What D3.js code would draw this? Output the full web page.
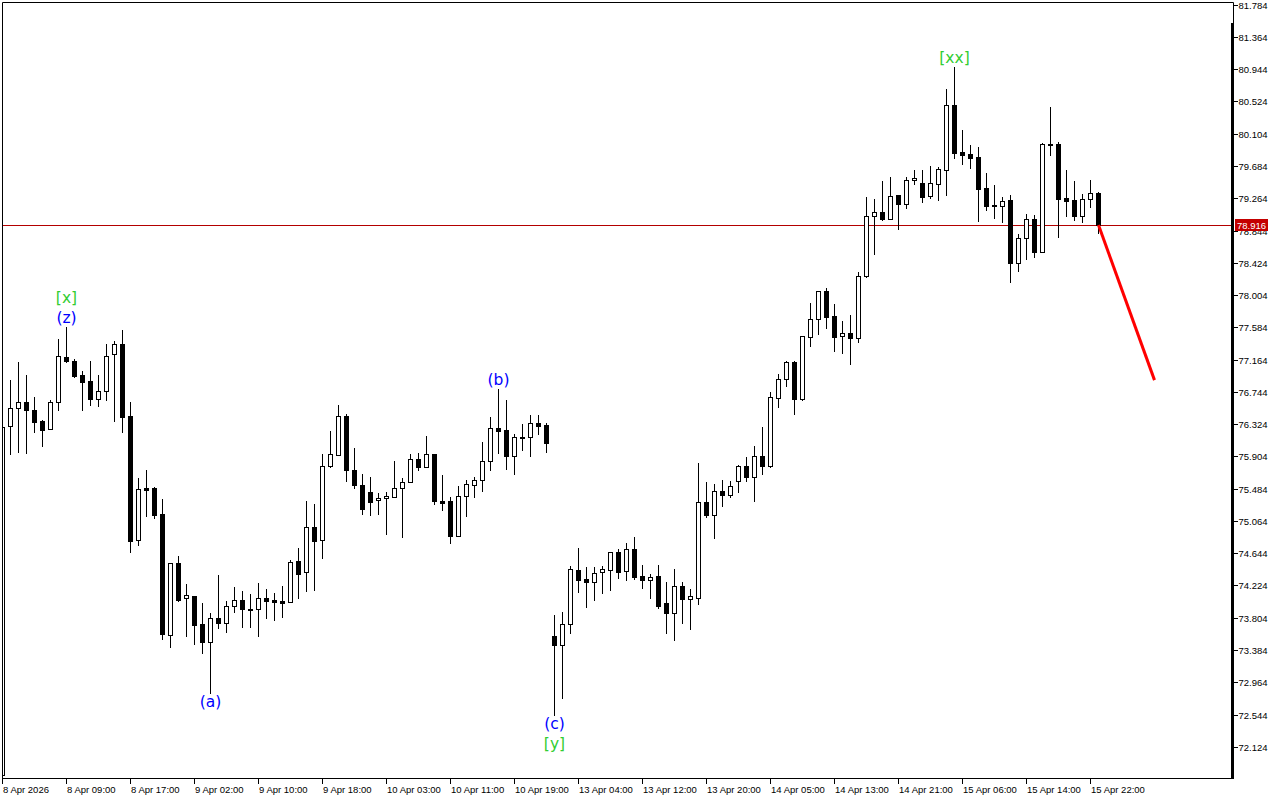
<!DOCTYPE html>
<html>
<head>
<meta charset="utf-8">
<script src="https://cdn.jsdelivr.net/npm/d3@7"></script>
<style>
  html, body { margin: 0; padding: 0; background: #ffffff; }
  svg { display: block; }
</style>
</head>
<body>
<script>
// ---------------- DATA (H1 candles, index -1 .. 136) ----------------
const opens = [71.754,
76.298,76.529,76.607,76.503,76.359,76.255,76.607,77.193,77.144,76.962,
76.884,76.646,76.754,77.232,77.366,76.428,74.810,75.487,75.491,75.152,
73.581,74.514,74.055,74.085,73.720,73.490,73.807,73.737,73.963,74.029,
73.924,73.919,74.055,74.033,74.019,74.003,74.540,74.393,74.983,74.810,
75.773,75.924,76.428,75.725,75.530,75.439,75.331,75.357,75.378,75.491,
75.565,75.868,75.768,75.930,75.318,75.322,74.870,75.383,75.534,75.591,
75.839,76.268,76.242,75.904,76.155,76.151,76.333,76.307,73.564,73.450,
73.724,74.423,74.302,74.271,74.393,74.427,74.654,74.406,74.693,74.345,
74.297,74.345,73.993,73.867,74.215,74.049,74.062,75.305,75.139,75.452,
75.404,75.578,75.773,75.638,75.904,75.781,76.667,76.906,77.131,76.654,
77.453,77.687,78.052,77.730,77.466,77.505,77.448,78.247,79.029,79.081,
78.997,79.306,79.185,79.497,79.458,79.289,79.453,79.628,80.478,79.862,
79.836,79.801,79.397,79.176,79.163,79.237,78.424,78.742,78.990,78.568,
79.966,79.966,79.263,79.237,79.036,79.250,79.328];
const highs = [76.285,
76.897,77.131,76.962,76.676,76.376,76.637,77.427,77.591,77.167,77.014,
77.144,76.962,77.366,77.405,77.548,76.611,75.621,75.725,75.500,75.348,
74.523,74.605,74.241,74.085,73.993,73.872,74.358,74.016,74.202,74.150,
74.111,74.254,74.176,74.128,74.215,74.562,74.710,75.318,75.283,75.934,
76.233,76.572,76.454,76.008,75.673,75.630,75.422,75.439,75.846,75.621,
75.934,75.947,76.168,75.930,75.660,75.378,75.517,75.595,75.630,76.090,
76.415,76.776,76.637,76.194,76.324,76.441,76.441,76.337,73.837,73.876,
74.475,74.710,74.458,74.466,74.475,74.660,74.697,74.775,74.853,74.488,
74.371,74.488,74.267,74.432,74.267,74.172,75.816,75.565,75.539,75.595,
75.582,75.790,75.894,76.038,76.285,76.741,76.975,77.144,77.144,77.470,
77.900,78.060,78.095,77.887,77.665,77.743,78.299,79.280,79.254,79.488,
79.544,79.310,79.544,79.628,79.631,79.684,79.674,80.686,80.977,80.152,
79.953,79.931,79.592,79.436,79.280,79.306,78.794,79.062,79.046,79.983,
80.452,79.996,79.631,79.488,79.323,79.497,79.349];
const lows = [71.754,
75.930,75.963,75.950,76.224,76.042,76.255,76.510,77.128,76.940,76.510,
76.572,76.562,76.641,76.367,76.224,74.661,74.753,75.130,75.104,73.529,
73.424,74.019,73.568,73.463,73.346,72.818,73.672,73.620,73.876,73.685,
73.685,73.568,73.802,73.776,73.815,74.003,74.062,74.154,74.167,74.586,
75.768,75.917,75.578,75.487,75.156,75.143,75.148,74.896,75.370,74.857,
75.565,75.725,75.768,75.286,75.208,74.779,74.870,75.130,75.378,75.456,
75.729,75.950,75.742,75.677,75.990,75.911,76.198,75.963,72.535,72.760,
73.607,74.141,73.945,74.036,74.128,74.167,74.323,74.293,74.306,74.193,
74.059,73.932,73.607,73.516,73.737,73.655,73.984,75.117,74.844,75.260,
75.374,75.443,75.586,75.325,75.677,75.768,76.549,76.819,76.458,76.637,
77.344,77.496,77.574,77.279,77.253,77.109,77.396,78.240,78.542,78.984,
78.990,78.867,79.141,79.453,79.219,79.271,79.245,79.310,79.792,79.714,
79.654,78.971,79.115,79.010,78.954,78.177,78.312,78.477,78.503,78.560,
79.827,78.763,79.036,78.980,78.954,79.154,78.815];
const closes = [76.285,
76.529,76.607,76.510,76.346,76.242,76.607,77.206,77.148,76.953,76.875,
76.646,76.754,77.206,77.362,76.419,74.805,75.478,75.469,75.139,73.594,
74.514,74.033,74.098,73.711,73.490,73.807,73.737,73.963,74.029,73.919,
73.924,74.055,74.023,74.010,73.997,74.536,74.367,74.983,74.805,75.777,
75.930,76.428,75.721,75.534,75.213,75.312,75.361,75.387,75.491,75.565,
75.868,75.768,75.930,75.325,75.299,74.870,75.383,75.539,75.595,75.839,
76.268,76.237,75.911,76.151,76.138,76.333,76.294,76.081,73.447,73.729,
74.432,74.297,74.271,74.380,74.432,74.654,74.401,74.693,74.336,74.293,
74.328,73.954,73.867,74.211,74.046,74.085,75.305,75.139,75.452,75.400,
75.513,75.773,75.638,75.904,75.781,76.676,76.906,77.131,76.654,77.466,
77.687,78.052,77.721,77.461,77.505,77.448,78.247,79.033,79.081,78.993,
79.293,79.185,79.497,79.527,79.284,79.458,79.644,80.478,79.857,79.831,
79.792,79.388,79.167,79.159,79.232,78.424,78.742,78.990,78.568,79.966,
79.960,79.258,79.232,79.036,79.250,79.328,78.916];
const firstIndex = -1;

const xTickLabels = ["8 Apr 2026","8 Apr 09:00","8 Apr 17:00","9 Apr 02:00","9 Apr 10:00",
  "9 Apr 18:00","10 Apr 03:00","10 Apr 11:00","10 Apr 19:00","13 Apr 04:00","13 Apr 12:00",
  "13 Apr 20:00","14 Apr 05:00","14 Apr 13:00","14 Apr 21:00","15 Apr 06:00","15 Apr 14:00","15 Apr 22:00"];
const yTickLabels = ["81.784","81.364","80.944","80.524","80.104","79.684","79.264","78.844",
  "78.424","78.004","77.584","77.164","76.744","76.324","75.904","75.484","75.064","74.644",
  "74.224","73.804","73.384","72.964","72.544","72.124"];
const currentPrice = 78.916;

// wave labels: candle index, text, colour group, side
const waveIdx   = [7, 7, 25, 61, 68, 68, 118];
const waveText  = ["(z)", "[x]", "(a)", "(b)", "(c)", "[y]", "[xx]"];
const waveKind  = ["minor", "major", "minor", "minor", "minor", "major", "major"];
const waveSide  = ["high", "high", "low", "high", "low", "low", "high"];
const waveStack = [0, 1, 0, 0, 0, 1, 0];

// projected path (red line)
const projIdx = [136, 143];
const projPrice = [78.916, 76.897];

// ---------------- LAYOUT ----------------
const W = 1280, H = 800;
const plotL = 2, plotT = 2, plotR = 1233, plotB = 778;

const svg = d3.select("body").append("svg").attr("width", W).attr("height", H);

const y = d3.scaleLinear().domain([72.124, 81.784]).range([746.8, 4.7]);
const x = d3.scaleLinear().domain([0, 136]).range([10.5, 1098.5]);

const candles = opens.map((o, k) => ({
  i: firstIndex + k, o, h: highs[k], l: lows[k], c: closes[k]
}));

svg.append("defs").append("clipPath").attr("id", "plotclip")
  .append("rect").attr("x", plotL + 0.5).attr("y", plotT).attr("width", plotR - plotL).attr("height", plotB - plotT);

const g = svg.append("g").attr("clip-path", "url(#plotclip)");

// current price line
g.append("line")
  .attr("x1", plotL).attr("x2", plotR)
  .attr("y1", Math.round(y(currentPrice)) + 0.5).attr("y2", Math.round(y(currentPrice)) + 0.5)
  .attr("stroke", "#b40000").attr("stroke-width", 1);

// candles
const cg = g.selectAll("g.candle").data(candles).enter().append("g").attr("class", "candle");
cg.append("rect")
  .attr("x", d => Math.floor(x(d.i)))
  .attr("y", d => Math.round(y(d.h)))
  .attr("width", 1)
  .attr("height", d => Math.max(1, Math.round(y(d.l)) - Math.round(y(d.h)) + 1))
  .attr("fill", "#000");
cg.append("rect")
  .attr("x", d => d.c >= d.o ? Math.floor(x(d.i)) - 2 + 0.5 : Math.floor(x(d.i)) - 2)
  .attr("y", d => {
    const t = Math.round(y(Math.max(d.o, d.c)));
    return d.c >= d.o ? t + 0.5 : t;
  })
  .attr("width", d => d.c >= d.o ? 4 : 5)
  .attr("height", d => {
    const t = Math.round(y(Math.max(d.o, d.c))), b = Math.round(y(Math.min(d.o, d.c)));
    return d.c >= d.o ? Math.max(b - t, 1) : Math.max(b - t + 1, 1);
  })
  .attr("fill", d => d.c >= d.o ? "#fff" : "#000")
  .attr("stroke", d => d.c >= d.o ? "#000" : "none")
  .attr("stroke-width", 1);

// projection line
g.append("line")
  .attr("x1", x(projIdx[0])).attr("y1", y(projPrice[0]))
  .attr("x2", x(projIdx[1])).attr("y2", y(projPrice[1]))
  .attr("stroke", "#ff0000").attr("stroke-width", 3);

// wave labels
const waveColor = { minor: "#0000ff", major: "#32cd32" };
waveIdx.forEach((idx, k) => {
  const cd = candles[idx - firstIndex];
  const base = waveSide[k] === "high" ? y(cd.h) : y(cd.l);
  const dir = waveSide[k] === "high" ? -1 : 1;
  const cy = base + dir * (9 + waveStack[k] * 20);
  svg.append("text")
    .attr("x", x(idx)).attr("y", cy)
    .attr("text-anchor", "middle").attr("dominant-baseline", "central")
    .attr("font-family", "DejaVu Sans, sans-serif").attr("font-size", "15.5px")
    .attr("fill", waveColor[waveKind[k]])
    .text(waveText[k]);
});

// frame
svg.append("path")
  .attr("d", `M${plotL + 0.5},${plotB + 6} V${plotT + 0.5} H${plotR + 0.5} V23 M${plotL + 0.5},${plotB + 0.5} H${plotR + 0.5}`)
  .attr("fill", "none").attr("stroke", "#000").attr("stroke-width", 1);
svg.append("rect").attr("x", 1231).attr("y", 23).attr("width", 3).attr("height", plotB - 23 + 1).attr("fill", "#000");

// y axis ticks + labels
const axisFont = "Liberation Sans, Arial, sans-serif";
const yAxis = svg.append("g");
yTickLabels.forEach(lbl => {
  const yy = Math.round(y(+lbl)) + 0.5;
  yAxis.append("line").attr("x1", 1234).attr("x2", 1238).attr("y1", yy).attr("y2", yy)
    .attr("stroke", "#000").attr("stroke-width", 1);
  yAxis.append("text").attr("x", 1238.5).attr("y", yy + 3.5)
    .attr("font-family", axisFont).attr("font-size", "9.5px").attr("fill", "#000").text(lbl);
});

// current price tag
const cpY = y(currentPrice);
svg.append("rect").attr("x", 1235).attr("y", Math.round(cpY) - 6).attr("width", 33).attr("height", 12).attr("fill", "#c40000");
svg.append("text").attr("x", 1237).attr("y", Math.round(cpY) + 4)
  .attr("font-family", axisFont).attr("font-size", "9.5px").attr("fill", "#fff").text(currentPrice.toFixed(3));

// x axis ticks + labels
const xAxis = svg.append("g");
xTickLabels.forEach((lbl, k) => {
  const idx = firstIndex + k * 8;
  const xx = Math.floor(x(idx)) + 0.5;
  xAxis.append("line").attr("x1", xx).attr("x2", xx).attr("y1", plotB).attr("y2", plotB + 6)
    .attr("stroke", "#000").attr("stroke-width", 1);
  xAxis.append("text").attr("x", xx + 0.5).attr("y", 792.5)
    .attr("font-family", axisFont).attr("font-size", "9.5px").attr("fill", "#000").text(lbl);
});
</script>
</body>
</html>
